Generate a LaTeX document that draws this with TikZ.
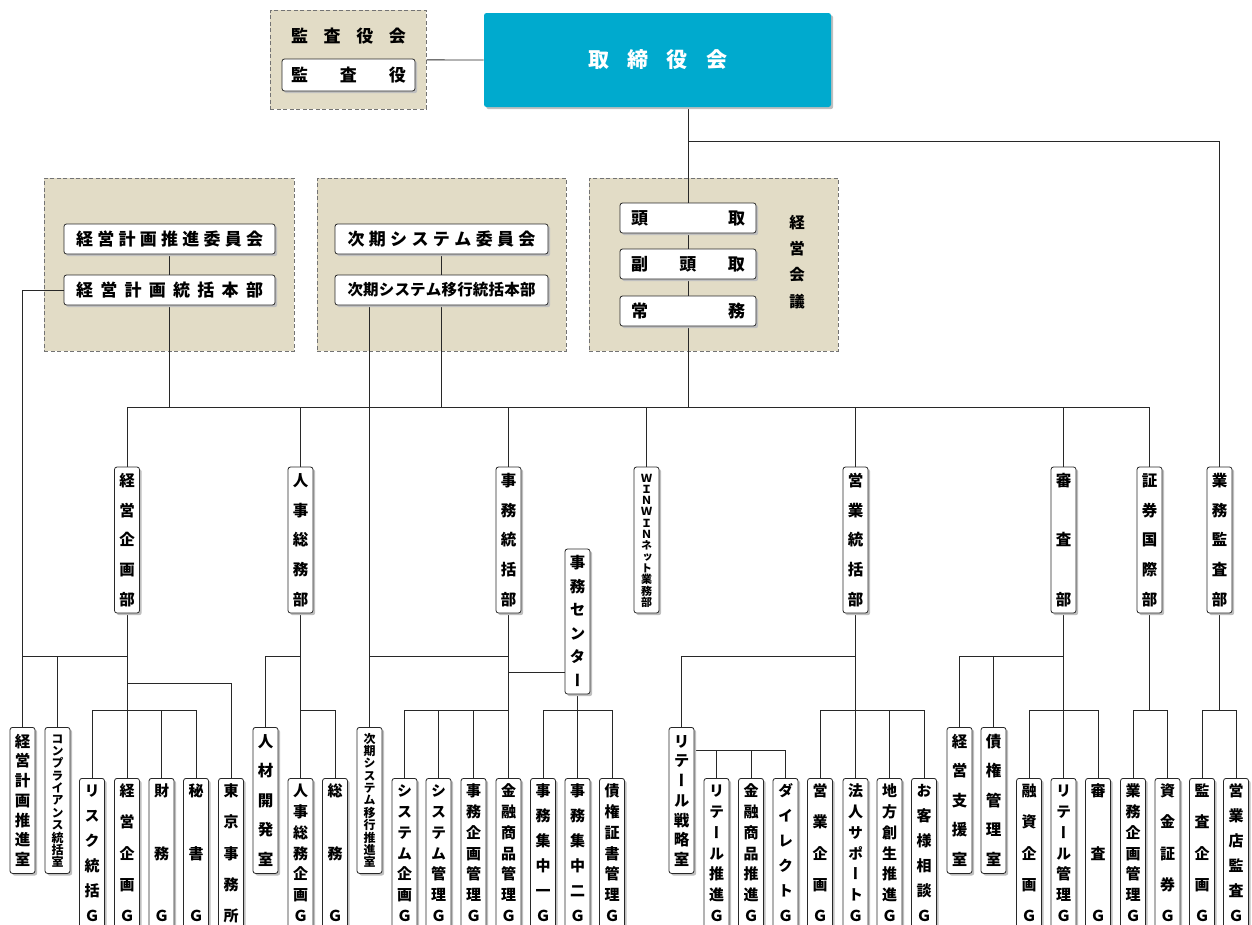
\documentclass[tikz,border=0pt]{standalone}
\usepackage{fontspec}
\usepackage{tikz}
\usetikzlibrary{positioning, shadows}

\newfontfamily\jp{Noto Sans CJK JP}
\newfontfamily\jpv{Noto Sans CJK JP}[RawFeature=+vert]

\definecolor{panelbg}{RGB}{226,220,198}
\definecolor{boardcyan}{RGB}{0,170,206}
\definecolor{rulegray}{RGB}{40,40,40}

\pgfdeclarelayer{panels}
\pgfdeclarelayer{wires}
\pgfsetlayers{panels,wires,main}

% characters spread over a fixed height / width
\newcommand\vstk[2]{\edef\vlist{#2}\vbox to #1{\offinterlineskip\foreach \chr [count=\idx] in \vlist {\ifnum\idx>1 \vfill\fi\hbox to 1em{\hss\vrule height .88em depth .12em width 0pt\chr\hss}}}}
\newcommand\hstk[2]{\edef\hlist{#2}\hbox to #1{\foreach \chr [count=\idx] in \hlist {\ifnum\idx>1 \hfill\fi\chr}}}

\begin{document}
\begin{tikzpicture}[x=1pt, y=-1pt,
    unit/.style={draw=rulegray, fill=white, rounded corners=2.5pt, line width=0.8pt, inner sep=0pt,
        drop shadow={shadow xshift=2.2pt, shadow yshift=-2.2pt, fill=black!25, opacity=1}},
    vunit/.style={unit, minimum width=25, text=black, font=\jpv\bfseries\fontsize{15.5}{15.5}\selectfont},
    hunit/.style={unit, minimum height=30, text=black, font=\jp\bfseries\fontsize{17}{17}\selectfont},
    panel/.style={draw=black!55, dash pattern=on 4pt off 2.5pt, fill=panelbg, line width=0.7pt,
        inner sep=0pt, anchor=north west},
    wire/.style={draw=rulegray, line width=0.8pt},
]
\useasboundingbox (0,0) rectangle (1252,924);

\coordinate (bus) at (0,407);
\coordinate (auditfork) at (688,141);
\coordinate (forkA) at (0,656);
\coordinate (forkB) at (0,672);
\coordinate (forkC) at (0,683);
\coordinate (forkD) at (0,710);
\coordinate (forkE) at (0,750);

% dashed panels
\begin{pgfonlayer}{panels}
\node[panel, minimum width=156, minimum height=99] (kansapanel) at (270,10) {};
\node[panel, minimum width=250, minimum height=173] (planpanel) at (44,178) {};
\node[panel, minimum width=249, minimum height=173] (syspanel) at (317,178) {};
\node[panel, minimum width=249, minimum height=173] (mgmtpanel) at (589,178) {};
\end{pgfonlayer}

% top
\node[text=black, font=\jp\bfseries\fontsize{17}{17}\selectfont] (kansakai) at (348.5,36) {\hstk{115pt}{監,査,役,会}};
\node[hunit, minimum width=133, minimum height=32] (kansayaku) at (348.5,75) {\hstk{115pt}{監,査,役}};
\node[unit, draw=none, fill=boardcyan, minimum width=347, minimum height=94, text=white,
    font=\jp\bfseries\fontsize{21}{21}\selectfont] (board) at (657.5,60) {\hstk{139pt}{取,締,役,会}};

% committees and management council
\node[hunit, minimum width=211] (plancommittee) at (169.5,239) {\hstk{187pt}{経,営,計,画,推,進,委,員,会}};
\node[hunit, minimum width=211] (planhq) at (169.5,290) {\hstk{187pt}{経,営,計,画,統,括,本,部}};
\node[hunit, minimum width=213] (syscommittee) at (441.5,239) {\hstk{188pt}{次,期,シ,ス,テ,ム,委,員,会}};
\node[hunit, minimum width=213, font=\jp\bfseries\fontsize{15.5}{15.5}\selectfont] (syshq) at (441.5,290) {\hstk{188pt}{次,期,シ,ス,テ,ム,移,行,統,括,本,部}};
\node[hunit, minimum width=136] (president) at (688,218) {\hstk{114pt}{頭,取}};
\node[hunit, minimum width=136] (vicepresident) at (688,264) {\hstk{114pt}{副,頭,取}};
\node[hunit, minimum width=136] (director) at (688,311) {\hstk{114pt}{常,務}};
\node[text=black, font=\jp\bfseries\fontsize{15.5}{15.5}\selectfont] (mgmtcouncil) at (797,262) {\vstk{92pt}{経,営,会,議}};

% departments
\foreach \nm/\xx/\txt in {keikakubu/127/{経,営,企,画,部}, jinjibu/300.5/{人,事,総,務,部},
    jimubu/508.5/{事,務,統,括,部}, eigyobu/855.5/{営,業,統,括,部}, shinsabu/1063.5/{審,査,部},
    shokenbu/1149.5/{証,券,国,際,部}, auditbu/1219.5/{業,務,監,査,部}}
    \node[vunit, minimum height=146] (\nm) at (\xx,540) {\vstk{132pt}{\txt}};
\node[vunit, minimum height=146, font=\jpv\bfseries\fontsize{11}{11}\selectfont] (winwinbu) at (646.5,540)
    {\vstk{134pt}{Ｗ,Ｉ,Ｎ,Ｗ,Ｉ,Ｎ,ネ,ッ,ト,業,務,部}};
\node[vunit, minimum height=145] (jimucenter) at (577.5,621.5) {\vstk{131pt}{事,務,セ,ン,タ,ー}};

% offices
\foreach \nm/\xx/\txt in {planoffice/22.5/{経,営,計,画,推,進,室}, jinzaioffice/265.5/{人,材,開,発,室},
    retailoffice/681.5/{リ,テ,ー,ル,戦,略,室}, shienoffice/959.5/{経,営,支,援,室},
    saikenoffice/993.5/{債,権,管,理,室}}
    \node[vunit, minimum height=146, anchor=north] (\nm) at (\xx,727) {\vstk{132pt}{\txt}};
\node[vunit, minimum height=146, anchor=north, font=\jpv\bfseries\fontsize{12}{12}\selectfont] (complianceoffice) at (57.5,727)
    {\vstk{134pt}{コ,ン,プ,ラ,イ,ア,ン,ス,統,括,室}};
\node[vunit, minimum height=146, anchor=north, font=\jpv\bfseries\fontsize{12}{12}\selectfont] (migoffice) at (369.5,727)
    {\vstk{134pt}{次,期,シ,ス,テ,ム,移,行,推,進,室}};

% groups
\foreach \nm/\xx/\txt in {riskG/92/{リ,ス,ク,統,括,Ｇ}, keikakuG/127/{経,営,企,画,Ｇ}, zaimuG/161.5/{財,務,Ｇ},
    hishoG/196/{秘,書,Ｇ}, tokyooffice/231/{東,京,事,務,所},
    jinjiG/300.5/{人,事,総,務,企,画,Ｇ}, somuG/335/{総,務,Ｇ},
    syskikakuG/404.5/{シ,ス,テ,ム,企,画,Ｇ}, syskanriG/438.5/{シ,ス,テ,ム,管,理,Ｇ},
    jimukikakuG/473.5/{事,務,企,画,管,理,Ｇ}, kinyuG/508.5/{金,融,商,品,管,理,Ｇ},
    jimu1G/543/{事,務,集,中,一,Ｇ}, jimu2G/577.5/{事,務,集,中,二,Ｇ}, shoshoG/612/{債,権,証,書,管,理,Ｇ},
    retailsuishinG/716.5/{リ,テ,ー,ル,推,進,Ｇ}, kinyusuishinG/751/{金,融,商,品,推,進,Ｇ},
    directG/785.5/{ダ,イ,レ,ク,ト,Ｇ}, eigyokikakuG/820/{営,業,企,画,Ｇ},
    hojinG/855.5/{法,人,サ,ポ,ー,ト,Ｇ}, chihoG/889.5/{地,方,創,生,推,進,Ｇ}, okyakuG/924/{お,客,様,相,談,Ｇ},
    yushiG/1029/{融,資,企,画,Ｇ}, retailkanriG/1063.5/{リ,テ,ー,ル,管,理,Ｇ}, shinsaG/1098/{審,査,Ｇ},
    gyomukikakuG/1133/{業,務,企,画,管,理,Ｇ}, shikinG/1167.5/{資,金,証,券,Ｇ},
    kansakikakuG/1202/{監,査,企,画,Ｇ}, eigyotenG/1236/{営,業,店,監,査,Ｇ}}
    \node[vunit, minimum height=150, anchor=north, font=\jpv\bfseries\fontsize{15}{15}\selectfont] (\nm) at (\xx,778) {\vstk{138pt}{\txt}};

% connectors
\begin{pgfonlayer}{wires}
\draw[wire] (kansapanel.east) -- (board.west);
\draw[wire] (board.south -| president) -- (president.north);
\draw[wire] (president.south) -- (vicepresident.north);
\draw[wire] (vicepresident.south) -- (director.north);
\draw[wire] (director.south) -- (director.south |- bus);
\draw[wire] (auditfork) -| (auditbu.north);
\draw[wire] (plancommittee.south) -- (planhq.north);
\draw[wire] (syscommittee.south) -- (syshq.north);
\draw[wire] (planhq.south) -- (planhq.south |- bus);
\draw[wire] (syshq.south) -- (syshq.south |- bus);
\draw[wire] (planhq.west) -| (planoffice.north);
\draw[wire] (syshq.south -| migoffice) -- (migoffice.north);
\draw[wire] (keikakubu.north |- bus) -- (shokenbu.north |- bus);
\foreach \d in {keikakubu, jinjibu, jimubu, winwinbu, eigyobu, shinsabu, shokenbu}
    \draw[wire] (\d.north) -- (\d.north |- bus);
% 経営企画部
\draw[wire] (keikakubu.south) -- (keikakuG.north);
\draw[wire] (planoffice.north |- forkA) -- (keikakubu.south |- forkA);
\draw[wire] (complianceoffice.north) -- (complianceoffice.north |- forkA);
\draw[wire] (keikakubu.south |- forkC) -| (tokyooffice.north);
\draw[wire] (riskG.north) |- (hishoG.north |- forkD) -- (hishoG.north);
\draw[wire] (zaimuG.north) -- (zaimuG.north |- forkD);
% 人事総務部
\draw[wire] (jinjibu.south) -- (jinjiG.north);
\draw[wire] (jinzaioffice.north) |- (jinjibu.south |- forkA);
\draw[wire] (jinjibu.south |- forkD) -| (somuG.north);
% 事務統括部
\draw[wire] (jimubu.south) -- (kinyuG.north);
\draw[wire] (migoffice.north |- forkA) -- (jimubu.south |- forkA);
\draw[wire] (jimubu.south |- forkB) -- (jimucenter.west |- forkB);
\draw[wire] (syskikakuG.north) |- (jimubu.south |- forkD);
\draw[wire] (syskanriG.north) -- (syskanriG.north |- forkD);
\draw[wire] (jimukikakuG.north) -- (jimukikakuG.north |- forkD);
\draw[wire] (jimucenter.south) -- (jimu2G.north);
\draw[wire] (jimu1G.north) |- (shoshoG.north |- forkD) -- (shoshoG.north);
% 営業統括部
\draw[wire] (eigyobu.south) -- (hojinG.north);
\draw[wire] (retailoffice.north) |- (eigyobu.south |- forkA);
\draw[wire] (retailoffice.east |- forkE) -| (directG.north);
\draw[wire] (retailsuishinG.north) -- (retailsuishinG.north |- forkE);
\draw[wire] (kinyusuishinG.north) -- (kinyusuishinG.north |- forkE);
\draw[wire] (eigyokikakuG.north) |- (okyakuG.north |- forkD) -- (okyakuG.north);
\draw[wire] (chihoG.north) -- (chihoG.north |- forkD);
% 審査部
\draw[wire] (shinsabu.south) -- (retailkanriG.north);
\draw[wire] (shienoffice.north) |- (shinsabu.south |- forkA);
\draw[wire] (saikenoffice.north) -- (saikenoffice.north |- forkA);
\draw[wire] (yushiG.north) |- (shinsaG.north |- forkD) -- (shinsaG.north);
% 証券国際部
\draw[wire] (shokenbu.south) -- (shokenbu.south |- forkD);
\draw[wire] (gyomukikakuG.north) |- (shikinG.north |- forkD) -- (shikinG.north);
% 業務監査部
\draw[wire] (auditbu.south) -- (auditbu.south |- forkD);
\draw[wire] (kansakikakuG.north) |- (eigyotenG.north |- forkD) -- (eigyotenG.north);
\end{pgfonlayer}
\end{tikzpicture}
\end{document}
